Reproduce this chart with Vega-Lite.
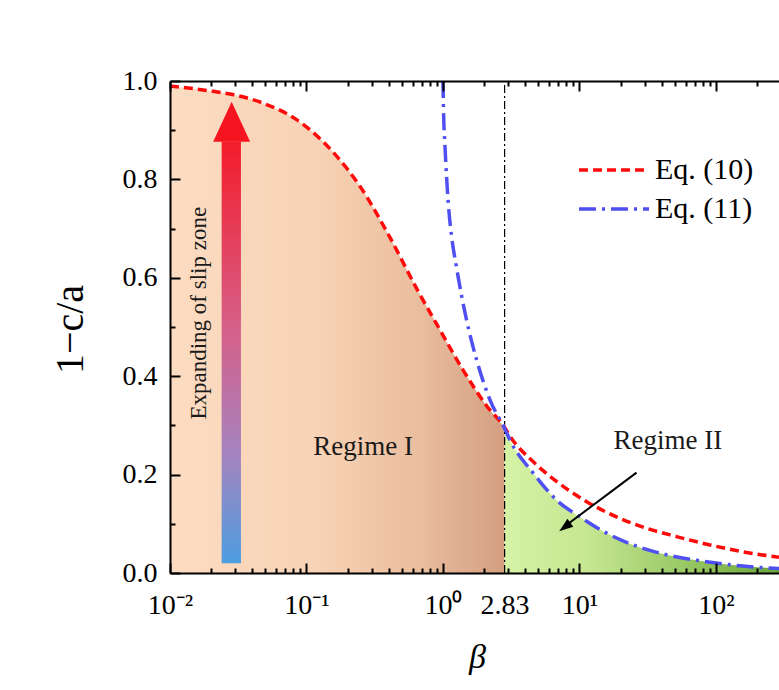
{
  "$schema": "https://vega.github.io/schema/vega-lite/v6.json",
  "width": 609,
  "height": 492,
  "autosize": {"type": "none"},
  "padding": {"left": 170, "top": 81, "right": 0, "bottom": 117},
  "background": "white",
  "config": {
    "view": {"stroke": null},
    "font": "Liberation Serif",
    "axis": {
      "domainColor": "black", "domainWidth": 2, "tickColor": "black", "tickWidth": 2,
      "labelColor": "black", "labelFont": "Liberation Serif", "labelFontSize": 28,
      "titleFont": "Liberation Serif", "titleColor": "black", "titleFontWeight": "normal", "grid": false,
      "labelFlush": false, "labelOverlap": false
    },
    "legend": {
      "orient": "none", "legendX": 428, "legendY": 73, "padding": 0,
      "symbolType": "M-2.5,0L2.5,0", "symbolSize": 784, "symbolStrokeWidth": 3.5,
      "labelFont": "Liberation Serif", "labelFontSize": 30, "labelColor": "black",
      "labelOffset": 25, "rowPadding": 8
    }
  },
  "datasets": {
    "curves": [
      {"eq": "Eq. (10)", "b": 0.01, "v": 0.990},
      {"eq": "Eq. (10)", "b": 0.0207, "v": 0.979},
      {"eq": "Eq. (10)", "b": 0.0294, "v": 0.972},
      {"eq": "Eq. (10)", "b": 0.048, "v": 0.955},
      {"eq": "Eq. (10)", "b": 0.0851, "v": 0.921},
      {"eq": "Eq. (10)", "b": 0.156, "v": 0.856},
      {"eq": "Eq. (10)", "b": 0.2466, "v": 0.786},
      {"eq": "Eq. (10)", "b": 0.409, "v": 0.682},
      {"eq": "Eq. (10)", "b": 0.645, "v": 0.577},
      {"eq": "Eq. (10)", "b": 0.951, "v": 0.494},
      {"eq": "Eq. (10)", "b": 1.401, "v": 0.413},
      {"eq": "Eq. (10)", "b": 2.10, "v": 0.339},
      {"eq": "Eq. (10)", "b": 2.83, "v": 0.296},
      {"eq": "Eq. (10)", "b": 3.10, "v": 0.278},
      {"eq": "Eq. (10)", "b": 4.59, "v": 0.226},
      {"eq": "Eq. (10)", "b": 6.81, "v": 0.186},
      {"eq": "Eq. (10)", "b": 11.3, "v": 0.145},
      {"eq": "Eq. (10)", "b": 18.7, "v": 0.114},
      {"eq": "Eq. (10)", "b": 31.0, "v": 0.091},
      {"eq": "Eq. (10)", "b": 51.5, "v": 0.074},
      {"eq": "Eq. (10)", "b": 90.4, "v": 0.057},
      {"eq": "Eq. (10)", "b": 158, "v": 0.043},
      {"eq": "Eq. (10)", "b": 290, "v": 0.032},
      {"eq": "Eq. (11)", "b": 1.0, "v": 1.0},
      {"eq": "Eq. (11)", "b": 1.012, "v": 0.93},
      {"eq": "Eq. (11)", "b": 1.035, "v": 0.867},
      {"eq": "Eq. (11)", "b": 1.094, "v": 0.752},
      {"eq": "Eq. (11)", "b": 1.158, "v": 0.684},
      {"eq": "Eq. (11)", "b": 1.259, "v": 0.620},
      {"eq": "Eq. (11)", "b": 1.49, "v": 0.514},
      {"eq": "Eq. (11)", "b": 1.766, "v": 0.433},
      {"eq": "Eq. (11)", "b": 2.21, "v": 0.352},
      {"eq": "Eq. (11)", "b": 2.83, "v": 0.294},
      {"eq": "Eq. (11)", "b": 3.10, "v": 0.270},
      {"eq": "Eq. (11)", "b": 4.59, "v": 0.203},
      {"eq": "Eq. (11)", "b": 6.81, "v": 0.148},
      {"eq": "Eq. (11)", "b": 10.09, "v": 0.114},
      {"eq": "Eq. (11)", "b": 15.8, "v": 0.081},
      {"eq": "Eq. (11)", "b": 24.8, "v": 0.057},
      {"eq": "Eq. (11)", "b": 43.5, "v": 0.037},
      {"eq": "Eq. (11)", "b": 85.5, "v": 0.023},
      {"eq": "Eq. (11)", "b": 158, "v": 0.014},
      {"eq": "Eq. (11)", "b": 290, "v": 0.009}
    ],
    "threshold": [{"b": 2.83, "lo": 0, "hi": 1}],
    "shaft": [{"b1": 0.0239, "b2": 0.0331, "v1": 0.020, "v2": 0.877}],
    "bighead": [{"b": 0.0283, "v": 0.958}],
    "pointer": [{"b1": 26.2, "v1": 0.204, "b2": 7.96, "v2": 0.0965}],
    "pointerhead": [{"b": 7.11, "v": 0.085}],
    "notes": [
      {"b": 0.0163, "v": 0.528, "t": "Expanding of slip zone", "k": "slip"},
      {"b": 0.26, "v": 0.256, "t": "Regime I", "k": "regime"},
      {"b": 44.5, "v": 0.268, "t": "Regime II", "k": "regime"}
    ]
  },
  "resolve": {"axis": {"x": "independent", "y": "independent"}},
  "layer": [
    {
      "data": {"name": "curves"},
      "transform": [{"filter": "datum.eq == 'Eq. (10)' && datum.b <= 2.83"}],
      "mark": {
        "type": "area", "interpolate": "monotone",
        "fill": {"gradient": "linear", "x1": 0, "y1": 0, "x2": 1, "y2": 0,
          "stops": [
            {"offset": 0, "color": "#fcdcc2"},
            {"offset": 0.45, "color": "#f8d2b4"},
            {"offset": 0.75, "color": "#e9bd9e"},
            {"offset": 1, "color": "#d49e81"}
          ]}
      },
      "encoding": {
        "x": {
          "field": "b", "type": "quantitative",
          "scale": {"type": "log", "domain": [0.01, 290], "nice": false},
          "axis": {
            "orient": "bottom", "zindex": 2,
            "values": [0.01, 0.1, 1, 10, 100],
            "labelExpr": "datum.value == 0.01 ? '10⁻²' : datum.value == 0.1 ? '10⁻¹' : datum.value == 1 ? '10⁰' : datum.value == 10 ? '10¹' : '10²'",
            "labelBaseline": "alphabetic", "labelPadding": 50, "tickSize": -10,
            "title": "β", "titleFontStyle": "italic", "titleFontSize": 34,
            "titleX": 307, "titleY": 84, "titleAlign": "center", "titleBaseline": "middle"
          }
        },
        "y": {
          "field": "v", "type": "quantitative",
          "scale": {"domain": [0, 1], "nice": false},
          "axis": {
            "orient": "left", "zindex": 2,
            "values": [0, 0.2, 0.4, 0.6, 0.8, 1],
            "format": ".1f",
            "labelPadding": 23, "tickSize": -10,
            "title": "1−c/a", "titleFontSize": 40, "titleAngle": -90,
            "titleX": -100, "titleY": 248, "titleAlign": "center", "titleBaseline": "middle"
          }
        }
      }
    },
    {
      "data": {"name": "curves"},
      "transform": [{"filter": "datum.eq == 'Eq. (11)' && datum.b >= 2.83"}],
      "mark": {
        "type": "area", "interpolate": "monotone",
        "fill": {"gradient": "linear", "x1": 0, "y1": 0, "x2": 1, "y2": 0,
          "stops": [
            {"offset": 0, "color": "#d6f2a6"},
            {"offset": 0.3, "color": "#c6e791"},
            {"offset": 0.7, "color": "#93c45e"},
            {"offset": 1, "color": "#6aa53c"}
          ]}
      },
      "encoding": {
        "x": {
          "field": "b", "type": "quantitative",
          "scale": {"type": "log", "domain": [0.01, 290], "nice": false},
          "axis": {"orient": "top", "zindex": 2, "values": [0.01, 0.1, 1, 10, 100], "labels": false, "title": null, "tickSize": -10}
        },
        "y": {
          "field": "v", "type": "quantitative", "scale": {"domain": [0, 1], "nice": false},
          "axis": {"orient": "left", "zindex": 2, "values": [0.1, 0.3, 0.5, 0.7, 0.9], "labels": false, "domain": false, "title": null, "tickSize": -5}
        }
      }
    },
    {
      "data": {"name": "threshold"},
      "mark": {"type": "rule", "color": "black", "strokeWidth": 1.2, "strokeDash": [8, 3, 2, 3]},
      "encoding": {
        "x": {
          "field": "b", "type": "quantitative", "scale": {"type": "log", "domain": [0.01, 290], "nice": false},
          "axis": {"orient": "bottom", "zindex": 2, "values": [0.02,0.03,0.04,0.05,0.06,0.07,0.08,0.09,0.2,0.3,0.4,0.5,0.6,0.7,0.8,0.9,2,3,4,5,6,7,8,9,20,30,40,50,60,70,80,90,200], "labels": false, "domain": false, "title": null, "tickSize": -5}
        },
        "y": {"field": "lo", "type": "quantitative", "scale": {"domain": [0, 1], "nice": false}, "axis": null},
        "y2": {"field": "hi"}
      }
    },
    {
      "data": {"name": "curves"},
      "mark": {"type": "line", "interpolate": "monotone", "strokeWidth": 3.5},
      "encoding": {
        "x": {
          "field": "b", "type": "quantitative", "scale": {"type": "log", "domain": [0.01, 290], "nice": false},
          "axis": {"orient": "top", "zindex": 2, "values": [0.02,0.03,0.04,0.05,0.06,0.07,0.08,0.09,0.2,0.3,0.4,0.5,0.6,0.7,0.8,0.9,2,3,4,5,6,7,8,9,20,30,40,50,60,70,80,90,200], "labels": false, "domain": false, "title": null, "tickSize": -5}
        },
        "y": {"field": "v", "type": "quantitative", "scale": {"domain": [0, 1], "nice": false}, "axis": null},
        "color": {"field": "eq", "type": "nominal",
          "scale": {"domain": ["Eq. (10)", "Eq. (11)"], "range": ["#ff0a0a", "#4f4ff2"]},
          "legend": {"title": null}},
        "strokeDash": {"field": "eq", "type": "nominal",
          "scale": {"domain": ["Eq. (10)", "Eq. (11)"], "range": [[9, 5], [17, 6, 3, 6]]},
          "legend": {"title": null}}
      }
    },
    {
      "data": {"name": "shaft"},
      "mark": {"type": "rect",
        "fill": {"gradient": "linear", "x1": 0, "y1": 0, "x2": 0, "y2": 1,
          "stops": [
            {"offset": 0, "color": "#f41c2a"},
            {"offset": 0.45, "color": "#d5618a"},
            {"offset": 0.75, "color": "#a284c0"},
            {"offset": 1, "color": "#4d9de0"}
          ]}},
      "encoding": {
        "x": {
          "field": "b1", "type": "quantitative", "scale": {"type": "log", "domain": [0.01, 290], "nice": false},
          "axis": {"orient": "bottom", "values": [2.83], "format": ".2f", "ticks": false, "domain": false, "title": null, "labelBaseline": "alphabetic", "labelPadding": 40}
        },
        "x2": {"field": "b2"},
        "y": {"field": "v1", "type": "quantitative", "scale": {"domain": [0, 1], "nice": false}, "axis": null},
        "y2": {"field": "v2"}
      }
    },
    {
      "data": {"name": "bighead"},
      "mark": {"type": "point", "shape": "M0,0L0.925,2L-0.925,2Z", "size": 1600, "filled": true, "fill": "#f5141f", "opacity": 1, "strokeWidth": 0},
      "encoding": {
        "x": {"field": "b", "type": "quantitative", "scale": {"type": "log", "domain": [0.01, 290], "nice": false}, "axis": null},
        "y": {"field": "v", "type": "quantitative", "scale": {"domain": [0, 1], "nice": false}, "axis": null}
      }
    },
    {
      "data": {"name": "pointer"},
      "mark": {"type": "rule", "color": "black", "strokeWidth": 2},
      "encoding": {
        "x": {"field": "b1", "type": "quantitative", "scale": {"type": "log", "domain": [0.01, 290], "nice": false}, "axis": null},
        "x2": {"field": "b2"},
        "y": {"field": "v1", "type": "quantitative", "scale": {"domain": [0, 1], "nice": false}, "axis": null},
        "y2": {"field": "v2"}
      }
    },
    {
      "data": {"name": "pointerhead"},
      "mark": {"type": "point", "shape": "M0,0L0.7,2L-0.7,2Z", "size": 196, "angle": 233, "filled": true, "fill": "black", "opacity": 1, "strokeWidth": 0},
      "encoding": {
        "x": {"field": "b", "type": "quantitative", "scale": {"type": "log", "domain": [0.01, 290], "nice": false}, "axis": null},
        "y": {"field": "v", "type": "quantitative", "scale": {"domain": [0, 1], "nice": false}, "axis": null}
      }
    },
    {
      "data": {"name": "notes"},
      "transform": [{"filter": "datum.k == 'slip'"}],
      "mark": {"type": "text", "angle": 270, "fontSize": 23, "font": "Liberation Serif", "color": "#1a1a1a", "align": "center", "baseline": "middle"},
      "encoding": {
        "x": {"field": "b", "type": "quantitative", "scale": {"type": "log", "domain": [0.01, 290], "nice": false}, "axis": null},
        "y": {"field": "v", "type": "quantitative", "scale": {"domain": [0, 1], "nice": false}, "axis": null},
        "text": {"field": "t"}
      }
    },
    {
      "data": {"name": "notes"},
      "transform": [{"filter": "datum.k == 'regime'"}],
      "mark": {"type": "text", "fontSize": 27, "font": "Liberation Serif", "color": "#1a1a1a", "align": "center", "baseline": "middle"},
      "encoding": {
        "x": {"field": "b", "type": "quantitative", "scale": {"type": "log", "domain": [0.01, 290], "nice": false}, "axis": null},
        "y": {"field": "v", "type": "quantitative", "scale": {"domain": [0, 1], "nice": false}, "axis": null},
        "text": {"field": "t"}
      }
    }
  ]
}
